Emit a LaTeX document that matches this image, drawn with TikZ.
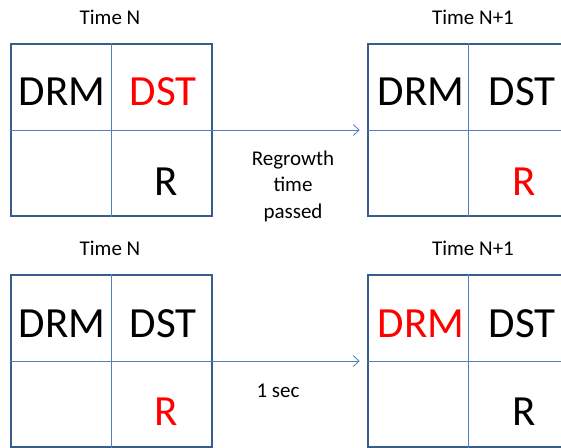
\documentclass[tikz,border=0pt]{standalone}
\usepackage{fontspec}
\setmainfont{Carlito}
\usepackage{tikz}
\usetikzlibrary{arrows.meta, positioning}
\usepackage{xcolor}
\definecolor{frameblue}{RGB}{56,93,138}
\definecolor{lineblue}{RGB}{79,129,189}
\definecolor{hot}{RGB}{255,0,0}

\begin{document}
\begin{tikzpicture}[
  x=1pt, y=-1pt,
  grid/.style={rectangle, draw=frameblue, line width=2.6pt,
               minimum width=201pt, minimum height=172pt, inner sep=0pt},
  divider/.style={draw=lineblue, line width=0.8pt},
  flow/.style={draw=lineblue, line width=0.8pt, -{Straight Barb[length=6pt,width=11pt]},
               shorten >=7pt},
  big/.style={font=\fontsize{43}{43}\selectfont, anchor=base},
  caption/.style={font=\fontsize{21}{21}\selectfont, anchor=base},
  note/.style={font=\fontsize{21}{26.5}\selectfont, align=center},
]
\clip (0,0) rectangle (561,447);
\fill[white] (0,0) rectangle (561,447);
% top row
\node[grid] (gridA) at (111.5,130) {};
\node[grid] (gridB) at (468.5,130) {};
% bottom row
\node[grid] (gridC) at (111.5,361) {};
\node[grid] (gridD) at (468.5,361) {};
\foreach \g in {gridA,gridB,gridC,gridD}{
  \draw[divider] (\g.north) -- (\g.south);
  \draw[divider] (\g.west) -- (\g.east);
}
\draw[flow] (gridA.east) -- (gridB.west);
\draw[flow] (gridC.east) -- (gridD.west);
% captions
\node[caption] (capA) at (110,24) {Time N};
\node[caption] (capB) at (473,24) {Time N+1};
\node[caption] (capC) at (110,255) {Time N};
\node[caption] (capD) at (473,255) {Time N+1};
% cell texts, top
\node[big] (drmA) at (62,105) {DRM};
\node[big, text=hot] (dstA) at (163,105) {DST};
\node[big] (rA) at (166,195) {R};
\node[big] (drmB) at (421,105) {DRM};
\node[big] (dstB) at (522,105) {DST};
\node[big, text=hot] (rB) at (524,195) {R};
% cell texts, bottom
\node[big] (drmC) at (62,337) {DRM};
\node[big] (dstC) at (163,337) {DST};
\node[big, text=hot] (rC) at (166,425) {R};
\node[big, text=hot] (drmD) at (421,337) {DRM};
\node[big] (dstD) at (522,337) {DST};
\node[big] (rD) at (524,425) {R};
% arrow labels
\node[note] (regrowth) at (293,186) {Regrowth\\time\\passed};
\node[caption] (onesec) at (278,397) {1 sec};
\end{tikzpicture}
\end{document}
